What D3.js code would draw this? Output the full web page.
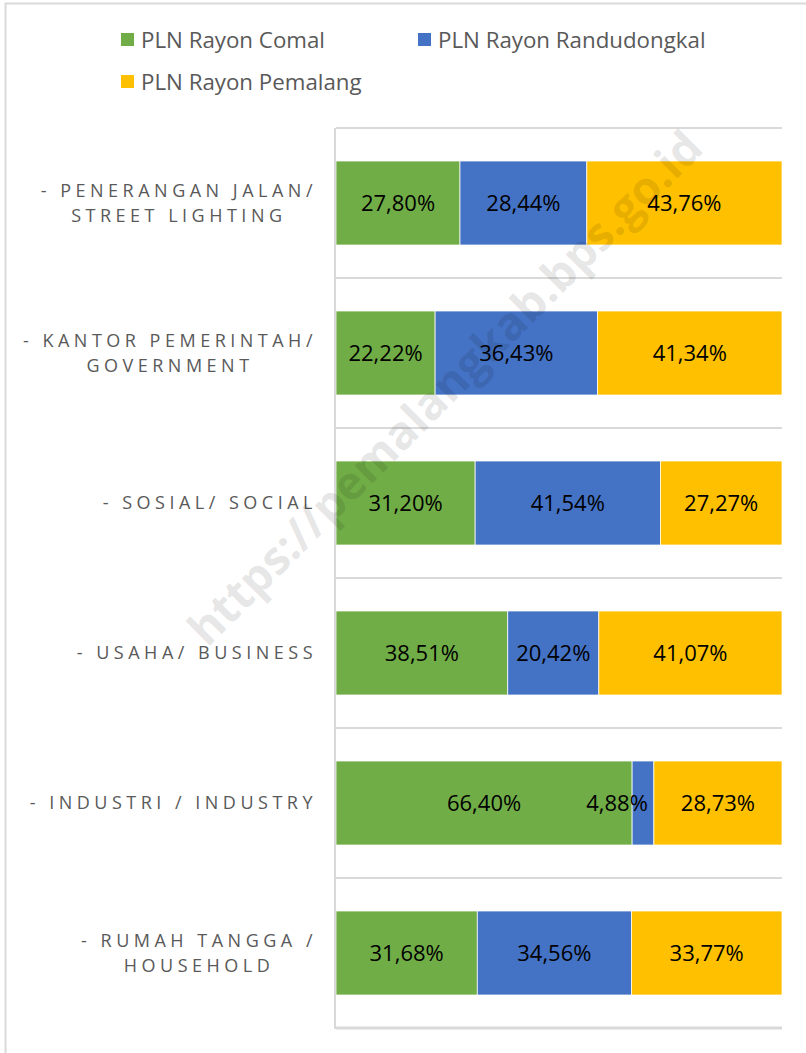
<!DOCTYPE html>
<html>
<head>
<meta charset="utf-8">
<script src="https://cdn.jsdelivr.net/npm/d3@7"></script>
<style>
  body { margin: 0; background: #fff; }
  svg { display: block; font-family: "Open Sans", "Noto Sans", sans-serif; }
</style>
</head>
<body>
<div class="js-chart"></div>
<script>
let w = 806;
let h = 1053;

// categories from top to bottom, each split in two lines as in the picture
let categories = ['penerangan', 'kantor', 'sosial', 'usaha', 'industri', 'rumah'];
let categoryLines = [
  ['- PENERANGAN JALAN/', 'STREET LIGHTING'],
  ['- KANTOR PEMERINTAH/', 'GOVERNMENT'],
  ['- SOSIAL/ SOCIAL'],
  ['- USAHA/ BUSINESS'],
  ['- INDUSTRI / INDUSTRY'],
  ['- RUMAH TANGGA /', 'HOUSEHOLD']
];

let seriesNames = ['PLN Rayon Comal', 'PLN Rayon Randudongkal', 'PLN Rayon Pemalang'];
let seriesColors = ['#70ad47', '#4472c4', '#ffc000'];

let comal = [27.80, 22.22, 31.20, 38.51, 66.40, 31.68];
let randudongkal = [28.44, 36.43, 41.54, 20.42, 4.88, 34.56];
let pemalang = [43.76, 41.34, 27.27, 41.07, 28.73, 33.77];

let rows = categories.map((c, i) => ({
  cat: c,
  s0: comal[i],
  s1: randudongkal[i],
  s2: pemalang[i]
}));

let svg = d3.select('.js-chart').append('svg').attr('width', w).attr('height', h);

// chart frame (cut off on the right and bottom)
svg.append('rect')
   .attr('x', 5.5).attr('y', 3.5)
   .attr('width', w + 20).attr('height', h + 20)
   .style('fill', 'none').style('stroke', '#d9d9d9').style('stroke-width', 2);

let x = d3.scaleLinear().domain([0, 1]).range([336, 782]);
let y = d3.scaleBand().domain(categories).range([128, 1028]).paddingInner(0.44).paddingOuter(0.22);

let stack = d3.stack().keys(['s0', 's1', 's2']).offset(d3.stackOffsetExpand);
let stacked = stack(rows);

// horizontal gridlines between categories
let gridYs = categories.map(c => y(c) - y.step() * 0.22).concat([1028]);
svg.append('g').selectAll('line').data(gridYs).enter().append('line')
   .attr('x1', 336).attr('x2', 782)
   .attr('y1', d => d).attr('y2', d => d)
   .style('stroke', '#d9d9d9')
   .style('stroke-width', (d, i) => i === gridYs.length - 1 ? 3 : 2);

// bars
let layers = svg.append('g').selectAll('g').data(stacked).enter().append('g')
   .style('fill', (d, i) => seriesColors[i]);

layers.selectAll('rect').data(d => d).enter().append('rect')
   .attr('x', d => x(d[0]))
   .attr('y', d => y(d.data.cat))
   .attr('width', d => x(d[1]) - x(d[0]))
   .attr('height', y.bandwidth())
   .style('stroke', '#fff')
   .style('stroke-width', 0.75);

// left axis line
svg.append('line')
   .attr('x1', 335).attr('x2', 335).attr('y1', 128).attr('y2', 1029)
   .style('stroke', '#d9d9d9').style('stroke-width', 2);

// data labels, drawn above all bars
// narrow segments get their label pushed left, like Excel does
let fmt = v => v.toFixed(2).replace('.', ',') + '%';
let labelData = [];
stacked.forEach(layer => layer.forEach(p => labelData.push({p: p, key: layer.key})));
let narrow = d => x(d.p[1]) - x(d.p[0]) < 40;
svg.append('g').selectAll('text').data(labelData).enter().append('text')
   .attr('x', d => narrow(d) ? x(d.p[1]) - 6 : (x(d.p[0]) + x(d.p[1])) / 2)
   .attr('y', d => y(d.p.data.cat) + y.bandwidth() / 2)
   .attr('dy', '0.36em')
   .attr('text-anchor', d => narrow(d) ? 'end' : 'middle')
   .style('fill', '#000')
   .style('font-size', '22px')
   .text(d => fmt(d.p.data[d.key]));

// category labels
let labels = svg.append('g').selectAll('text').data(categories).enter().append('text')
   .attr('text-anchor', 'middle')
   .style('fill', '#595959')
   .style('font-size', '18px')
   .style('letter-spacing', '4.5px');

labels.each(function(c, i) {
  let lines = categoryLines[i];
  let t = d3.select(this);
  let cy = y(c) + y.bandwidth() / 2;
  lines.forEach((ln, j) => {
    t.append('tspan').text(ln)
     .attr('y', cy + (j - (lines.length - 1) / 2) * 25)
     .attr('dy', '0.35em');
  });
});

// right-align each label block at x = 313, lines centred inside the block
labels.each(function() {
  let t = d3.select(this);
  let widths = [];
  t.selectAll('tspan').each(function() { widths.push(this.getComputedTextLength()); });
  let bw = d3.max(widths);
  t.selectAll('tspan').attr('x', 313 - bw / 2 + 4);
});

// legend
let legendItems = [
  {name: seriesNames[0], color: seriesColors[0], x: 121, y: 40},
  {name: seriesNames[1], color: seriesColors[1], x: 418, y: 40},
  {name: seriesNames[2], color: seriesColors[2], x: 121, y: 82}
];
let legend = svg.append('g').selectAll('g').data(legendItems).enter().append('g')
   .attr('transform', d => `translate(${d.x},${d.y})`);
legend.append('rect')
   .attr('x', 0).attr('y', -7).attr('width', 13).attr('height', 13)
   .style('fill', d => d.color);
legend.append('text')
   .attr('x', 20).attr('dy', '0.35em')
   .style('fill', '#595959').style('font-size', '22.3px')
   .text(d => d.name);

// watermark
svg.append('text')
   .attr('transform', 'translate(445,388) rotate(-45)')
   .attr('text-anchor', 'middle')
   .attr('dy', '0.35em')
   .style('font-size', '46px')
   .style('font-weight', 'bold')
   .style('fill', '#000')
   .style('fill-opacity', 0.11)
   .text('https://pemalangkab.bps.go.id');
</script>
</body>
</html>
